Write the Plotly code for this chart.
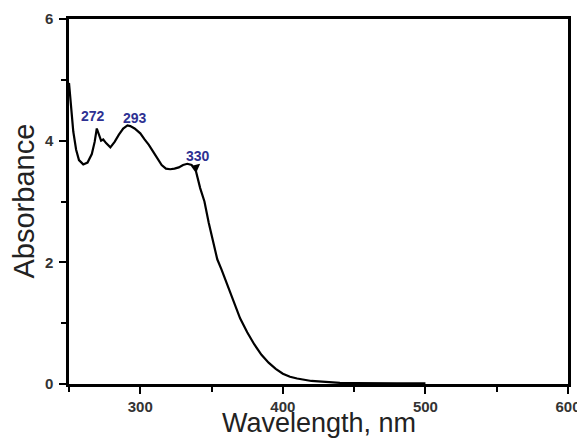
import plotly.graph_objects as go

wavelength = [250, 251, 252, 253, 255, 257, 260, 263, 266, 268, 269.5, 271, 272.5, 274, 276, 279,
              282, 285, 288, 291, 293, 296, 300, 303, 306, 309, 312, 315, 318, 321, 324, 327,
              330, 333, 336, 339, 342, 345, 348, 351, 354, 357, 360, 365, 370, 375, 380, 385,
              390, 395, 400, 405, 410, 420, 430, 440, 450, 460, 480, 500]
absorbance = [4.95, 4.7, 4.4, 4.15, 3.85, 3.68, 3.61, 3.64, 3.78, 3.98, 4.2, 4.08, 4.0, 4.02, 3.96, 3.89,
              3.98, 4.1, 4.2, 4.25, 4.24, 4.2, 4.12, 4.02, 3.93, 3.82, 3.72, 3.6, 3.54, 3.53, 3.54, 3.56,
              3.6, 3.62, 3.6, 3.5, 3.22, 3.0, 2.65, 2.35, 2.05, 1.88, 1.7, 1.38, 1.08, 0.85, 0.65, 0.48,
              0.35, 0.25, 0.17, 0.12, 0.09, 0.05, 0.03, 0.02, 0.015, 0.01, 0.01, 0.01]

peak_labels = ["272", "293", "330"]
peak_label_x = [266.7, 296.5, 340.3]
peak_label_y = [4.4, 4.38, 3.74]

x_title = "Wavelength, nm"
y_title = "Absorbance"

fig = go.Figure()
fig.add_trace(go.Scatter(x=wavelength, y=absorbance, mode="lines",
                         line=dict(color="black", width=2.2), showlegend=False))

lab_color = "#2E3192"
for t, x, y in zip(peak_labels, peak_label_x, peak_label_y):
    fig.add_annotation(x=x, y=y, text="<b>%s</b>" % t, showarrow=False,
                       font=dict(family="Arial, Liberation Sans", size=14, color=lab_color))

# small arrow near 330 label
fig.add_annotation(x=342, y=3.62, ax=-6, ay=5, text="", showarrow=True,
                   arrowhead=2, arrowsize=1, arrowwidth=1.5, arrowcolor="black")

tickfont = dict(family="Arial, Liberation Sans", size=15, color="#333333")
titlefont = dict(family="Arial, Liberation Sans", size=27, color="#222222")

# axis titles as annotations (to keep plot area fixed)
fig.add_annotation(xref="paper", yref="paper", x=0.5, y=0, xanchor="center", yanchor="top",
                   yshift=-22, text=x_title, showarrow=False, font=titlefont)
fig.add_annotation(xref="paper", yref="paper", x=0, y=0.5, xanchor="center", yanchor="middle",
                   xshift=-46, text=y_title, textangle=-90, showarrow=False,
                   font=dict(family="Arial, Liberation Sans", size=29, color="#222222"))

fig.update_xaxes(range=[250, 600], tickmode="linear", tick0=300, dtick=100,
                 ticks="outside", ticklen=7, tickwidth=2, tickcolor="black",
                 minor=dict(tick0=250, dtick=50, ticks="outside", ticklen=5, tickwidth=2, tickcolor="black"),
                 showline=True, linecolor="black", linewidth=2.5, mirror=True,
                 showgrid=False, zeroline=False, automargin=False,
                 tickfont=tickfont, tickprefix="<b>", ticksuffix="</b>")
fig.update_yaxes(range=[0, 6], tickmode="linear", tick0=0, dtick=2,
                 ticks="outside", ticklen=7, tickwidth=2, tickcolor="black",
                 minor=dict(tick0=0, dtick=1, ticks="outside", ticklen=5, tickwidth=2, tickcolor="black"),
                 showline=True, linecolor="black", linewidth=2.5, mirror=True,
                 showgrid=False, zeroline=False, automargin=False, ticklabelstandoff=3,
                 tickfont=tickfont, tickprefix="<b>", ticksuffix="</b>")

# page body has an 8px default margin, so the figure is sized to fill the remaining window
fig.update_layout(width=577, height=430, margin=dict(l=61, r=17, t=11, b=54),
                  plot_bgcolor="white", paper_bgcolor="white")

fig.write_html("out.html")
